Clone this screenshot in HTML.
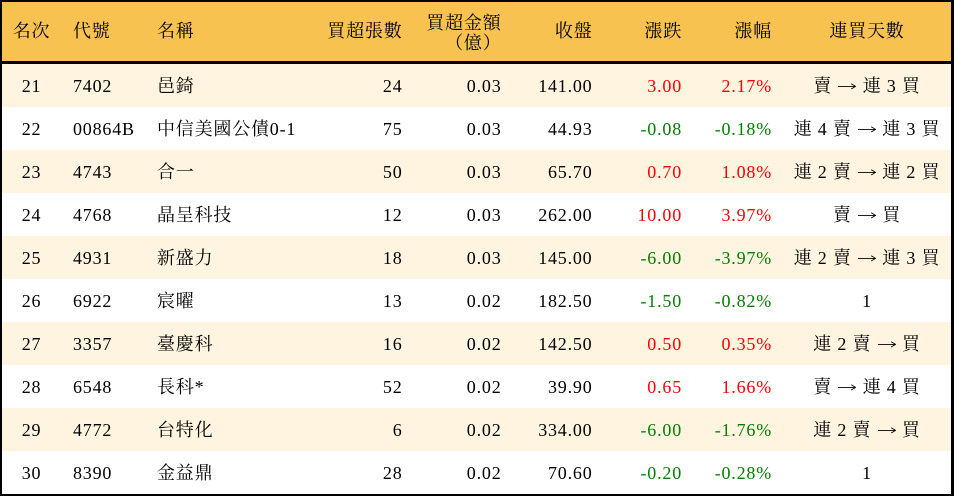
<!DOCTYPE html>
<html>
<head>
<meta charset="utf-8">
<style>
  html, body { margin:0; padding:0; }
  body { width:954px; height:496px; position:relative; overflow:hidden; background:#fff;
         font-family:"Liberation Serif","Noto Serif CJK SC","Noto Serif CJK TC",serif;
         font-size:18px; letter-spacing:0.8px; color:#000; }
  .b { position:absolute; background:#000; }
  .hdr { position:absolute; left:0; top:0; width:954px; height:61px; background:#F8C250; }
  .row { position:absolute; left:0; width:954px; height:43px; }
  .cream { background:#FEF4DF; }
  .c { position:absolute; white-space:nowrap; }
  .hc { top:2px; height:59px; line-height:59px; }
  .rc { top:1px; height:42px; line-height:43px; }
  .rank { left:0; width:63px; text-align:center; }
  .code { left:73px; }
  .name { left:157px; }
  .qty { left:302.5px; width:100px; text-align:right; }
  .amt { left:401.5px; width:100px; text-align:right; }
  .cls { left:492.5px; width:100px; text-align:right; }
  .chg { left:582px; width:100px; text-align:right; }
  .pct { left:672px; width:100px; text-align:right; }
  .str { left:787px; width:160px; text-align:center; }
  .r { color:#FF0000; }
  .g { color:#008000; }
  .two { top:13px; line-height:20px; height:40px; }
  .ar { display:inline-block; width:18px; height:12px; vertical-align:baseline; margin:0 1px; }
</style>
</head>
<body>
<svg width="0" height="0" style="position:absolute">
  <defs>
    <symbol id="arr" viewBox="0 0 18 12">
      <line x1="0" y1="6.4" x2="17" y2="6.4" stroke="#000" stroke-width="0.9"/>
      <path d="M13.2 3.8 L17.6 6.4 L13.2 9" fill="none" stroke="#000" stroke-width="0.9"/>
    </symbol>
  </defs>
</svg>
<div class="hdr">
  <div class="c hc rank">名次</div>
  <div class="c hc code">代號</div>
  <div class="c hc name">名稱</div>
  <div class="c hc qty">買超張數</div>
  <div class="c amt two">買超金額<br>（億）</div>
  <div class="c hc cls">收盤</div>
  <div class="c hc chg">漲跌</div>
  <div class="c hc pct">漲幅</div>
  <div class="c hc str">連買天數</div>
</div>

<div class="row cream" style="top:64px">
  <div class="c rc rank">21</div><div class="c rc code">7402</div><div class="c rc name">邑錡</div>
  <div class="c rc qty">24</div><div class="c rc amt">0.03</div><div class="c rc cls">141.00</div>
  <div class="c rc chg r">3.00</div><div class="c rc pct r">2.17%</div><div class="c rc str">賣 <svg class="ar"><use href="#arr"/></svg> 連 3 買</div>
</div>
<div class="row" style="top:107px">
  <div class="c rc rank">22</div><div class="c rc code">00864B</div><div class="c rc name">中信美國公債0-1</div>
  <div class="c rc qty">75</div><div class="c rc amt">0.03</div><div class="c rc cls">44.93</div>
  <div class="c rc chg g">-0.08</div><div class="c rc pct g">-0.18%</div><div class="c rc str">連 4 賣 <svg class="ar"><use href="#arr"/></svg> 連 3 買</div>
</div>
<div class="row cream" style="top:150px">
  <div class="c rc rank">23</div><div class="c rc code">4743</div><div class="c rc name">合一</div>
  <div class="c rc qty">50</div><div class="c rc amt">0.03</div><div class="c rc cls">65.70</div>
  <div class="c rc chg r">0.70</div><div class="c rc pct r">1.08%</div><div class="c rc str">連 2 賣 <svg class="ar"><use href="#arr"/></svg> 連 2 買</div>
</div>
<div class="row" style="top:193px">
  <div class="c rc rank">24</div><div class="c rc code">4768</div><div class="c rc name">晶呈科技</div>
  <div class="c rc qty">12</div><div class="c rc amt">0.03</div><div class="c rc cls">262.00</div>
  <div class="c rc chg r">10.00</div><div class="c rc pct r">3.97%</div><div class="c rc str">賣 <svg class="ar"><use href="#arr"/></svg> 買</div>
</div>
<div class="row cream" style="top:236px">
  <div class="c rc rank">25</div><div class="c rc code">4931</div><div class="c rc name">新盛力</div>
  <div class="c rc qty">18</div><div class="c rc amt">0.03</div><div class="c rc cls">145.00</div>
  <div class="c rc chg g">-6.00</div><div class="c rc pct g">-3.97%</div><div class="c rc str">連 2 賣 <svg class="ar"><use href="#arr"/></svg> 連 3 買</div>
</div>
<div class="row" style="top:279px">
  <div class="c rc rank">26</div><div class="c rc code">6922</div><div class="c rc name">宸曜</div>
  <div class="c rc qty">13</div><div class="c rc amt">0.02</div><div class="c rc cls">182.50</div>
  <div class="c rc chg g">-1.50</div><div class="c rc pct g">-0.82%</div><div class="c rc str">1</div>
</div>
<div class="row cream" style="top:322px">
  <div class="c rc rank">27</div><div class="c rc code">3357</div><div class="c rc name">臺慶科</div>
  <div class="c rc qty">16</div><div class="c rc amt">0.02</div><div class="c rc cls">142.50</div>
  <div class="c rc chg r">0.50</div><div class="c rc pct r">0.35%</div><div class="c rc str">連 2 賣 <svg class="ar"><use href="#arr"/></svg> 買</div>
</div>
<div class="row" style="top:365px">
  <div class="c rc rank">28</div><div class="c rc code">6548</div><div class="c rc name">長科*</div>
  <div class="c rc qty">52</div><div class="c rc amt">0.02</div><div class="c rc cls">39.90</div>
  <div class="c rc chg r">0.65</div><div class="c rc pct r">1.66%</div><div class="c rc str">賣 <svg class="ar"><use href="#arr"/></svg> 連 4 買</div>
</div>
<div class="row cream" style="top:408px">
  <div class="c rc rank">29</div><div class="c rc code">4772</div><div class="c rc name">台特化</div>
  <div class="c rc qty">6</div><div class="c rc amt">0.02</div><div class="c rc cls">334.00</div>
  <div class="c rc chg g">-6.00</div><div class="c rc pct g">-1.76%</div><div class="c rc str">連 2 賣 <svg class="ar"><use href="#arr"/></svg> 買</div>
</div>
<div class="row" style="top:451px">
  <div class="c rc rank">30</div><div class="c rc code">8390</div><div class="c rc name">金益鼎</div>
  <div class="c rc qty">28</div><div class="c rc amt">0.02</div><div class="c rc cls">70.60</div>
  <div class="c rc chg g">-0.20</div><div class="c rc pct g">-0.28%</div><div class="c rc str">1</div>
</div>

<!-- borders -->
<div class="b" style="left:0;top:0;width:954px;height:2px"></div>
<div class="b" style="left:0;top:494px;width:954px;height:2px"></div>
<div class="b" style="left:0;top:0;width:2px;height:496px"></div>
<div class="b" style="left:951px;top:0;width:3px;height:496px"></div>
<div class="b" style="left:0;top:61px;width:954px;height:3px"></div>
</body>
</html>
